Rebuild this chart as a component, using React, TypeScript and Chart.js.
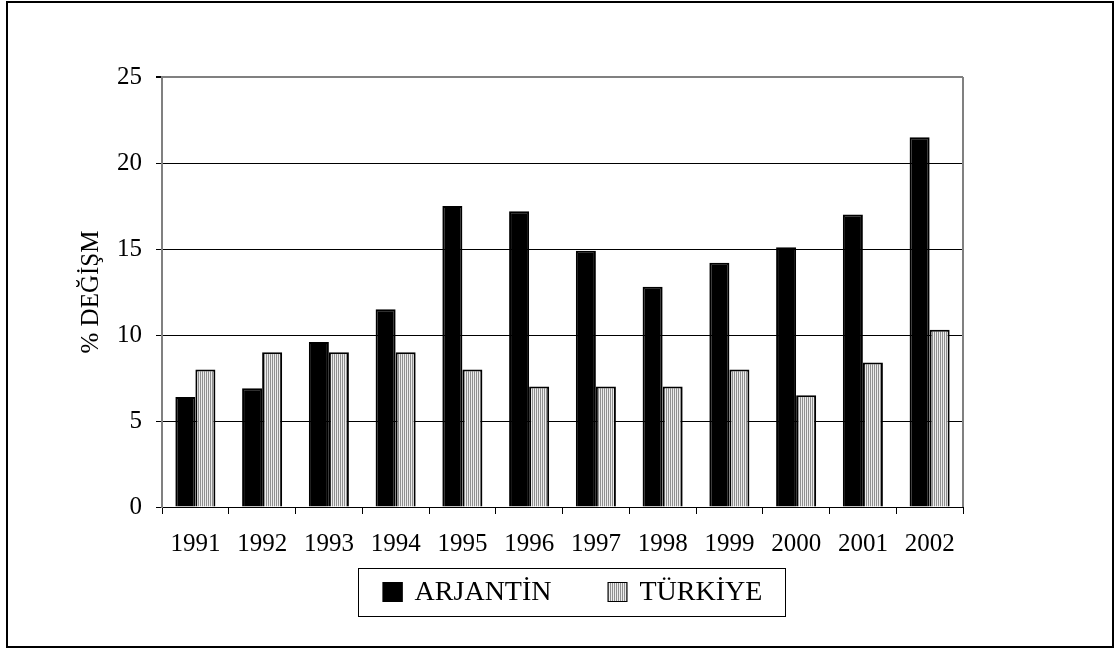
import React, { useEffect, useRef } from 'react';
import { Chart, registerables } from 'chart.js';

Chart.register(...registerables);

const years = ['1991', '1992', '1993', '1994', '1995', '1996', '1997', '1998', '1999', '2000', '2001', '2002'];
const arjantin = [6.4, 6.9, 9.6, 11.5, 17.5, 17.2, 14.9, 12.8, 14.2, 15.1, 17.0, 21.5];
const turkiye = [8.0, 9.0, 9.0, 9.0, 8.0, 7.0, 7.0, 7.0, 8.0, 6.5, 8.4, 10.3];
const seriesNames = ['ARJANTİN', 'TÜRKİYE'];
const yTitle = '% DEĞİŞM';
const yMin = 0;
const yMax = 25;
const yStep = 5;

const FONT = '"Liberation Serif", "Times New Roman", serif';

function makeStripePattern(): CanvasPattern | string {
  const c = document.createElement('canvas');
  c.width = 2;
  c.height = 2;
  const cx = c.getContext('2d');
  if (!cx) return '#c0c0c0';
  cx.fillStyle = '#ececec';
  cx.fillRect(0, 0, 2, 2);
  cx.fillStyle = '#8f8f8f';
  cx.fillRect(0, 0, 1, 2);
  const p = cx.createPattern(c, 'repeat');
  return p || '#c0c0c0';
}

const plotFramePlugin = {
  id: 'plotFrame',
  beforeDatasetsDraw(chart: any) {
    const { ctx, chartArea } = chart;
    ctx.save();
    ctx.strokeStyle = '#808080';
    ctx.lineWidth = 2;
    ctx.beginPath();
    ctx.moveTo(chartArea.right, chartArea.top);
    ctx.lineTo(chartArea.right, chartArea.bottom);
    ctx.stroke();
    ctx.restore();
  },
};

const boxedLegendPlugin = {
  id: 'boxedLegend',
  afterDraw(chart: any) {
    const ctx = chart.ctx as CanvasRenderingContext2D;
    ctx.save();
    const rect = { x: 350, y: 565, w: 427, h: 48 };
    ctx.strokeStyle = '#000';
    ctx.lineWidth = 1;
    ctx.strokeRect(rect.x + 0.5, rect.y + 0.5, rect.w, rect.h);
    ctx.font = `28px ${FONT}`;
    const items = chart.data.datasets.map((ds: any) => ({ label: ds.label as string, fill: ds.backgroundColor }));
    const box = 20;
    const gap = 12;
    const itemGap = 56;
    const widths = items.map((it: any) => box + gap + ctx.measureText(it.label).width);
    const total = widths.reduce((a: number, b: number) => a + b, 0) + itemGap * (items.length - 1);
    let x = rect.x + rect.w / 2 + 1 - total / 2;
    const cy = rect.y + rect.h / 2;
    items.forEach((it: any, i: number) => {
      ctx.fillStyle = it.fill;
      ctx.fillRect(x, cy - box / 2, box, box);
      ctx.strokeStyle = '#000';
      ctx.lineWidth = 1;
      ctx.strokeRect(x + 0.5, cy - box / 2 + 0.5, box - 1, box - 1);
      ctx.fillStyle = '#000';
      ctx.textBaseline = 'middle';
      ctx.textAlign = 'left';
      ctx.fillText(it.label, x + box + gap, cy + 1);
      x += widths[i] + itemGap;
    });
    ctx.restore();
  },
};

export default function App() {
  const canvasRef = useRef<HTMLCanvasElement | null>(null);

  useEffect(() => {
    if (!canvasRef.current) return;
    const stripes = makeStripePattern();
    const chart = new Chart(canvasRef.current, {
      type: 'bar',
      data: {
        labels: years,
        datasets: [
          {
            label: seriesNames[0],
            data: arjantin,
            backgroundColor: '#000000',
            borderColor: '#000000',
            borderWidth: 2,
            categoryPercentage: 0.6,
            barPercentage: 1.0,
          },
          {
            label: seriesNames[1],
            data: turkiye,
            backgroundColor: stripes as any,
            borderColor: '#000000',
            borderWidth: 2,
            categoryPercentage: 0.6,
            barPercentage: 1.0,
          },
        ],
      },
      options: {
        animation: false,
        responsive: false,
        events: [],
        layout: { padding: { top: 74, right: 149, bottom: 89, left: 0 } },
        plugins: {
          legend: { display: false },
          tooltip: { enabled: false },
          title: { display: false },
        },
        scales: {
          x: {
            offset: true,
            grid: {
              offset: true,
              drawOnChartArea: false,
              color: '#000',
              tickLength: 7,
              lineWidth: 1,
            },
            border: { color: '#000', width: 1 },
            ticks: { color: '#000', font: { family: FONT, size: 25 }, padding: 15, maxRotation: 0 },
            afterFit: (s: any) => {
              s.height = 50;
            },
          },
          y: {
            min: yMin,
            max: yMax,
            ticks: { stepSize: yStep, color: '#000', font: { family: FONT, size: 25 }, padding: 14 },
            grid: {
              color: (c: any) => (c.tick && c.tick.value === yMax ? '#808080' : '#000'),
              lineWidth: (c: any) => (c.tick && c.tick.value === yMax ? 2 : 1),
              tickColor: '#000',
              tickLength: 6,
            },
            border: { color: '#808080', width: 2 },
            title: {
              display: true,
              text: yTitle,
              color: '#000',
              font: { family: FONT, size: 25 },
              padding: { top: 68, bottom: 0 },
            },
            afterFit: (s: any) => {
              s.width = 154;
            },
          },
        },
      },
      plugins: [plotFramePlugin, boxedLegendPlugin],
    });
    return () => chart.destroy();
  }, []);

  return (
    <div
      style={{
        position: 'absolute',
        left: 6,
        top: 1,
        width: 1108,
        height: 647,
        border: '2px solid #000',
        boxSizing: 'border-box',
        background: '#fff',
      }}
    >
      <canvas ref={canvasRef} width={1104} height={643} style={{ display: 'block', width: 1104, height: 643 }} />
    </div>
  );
}
